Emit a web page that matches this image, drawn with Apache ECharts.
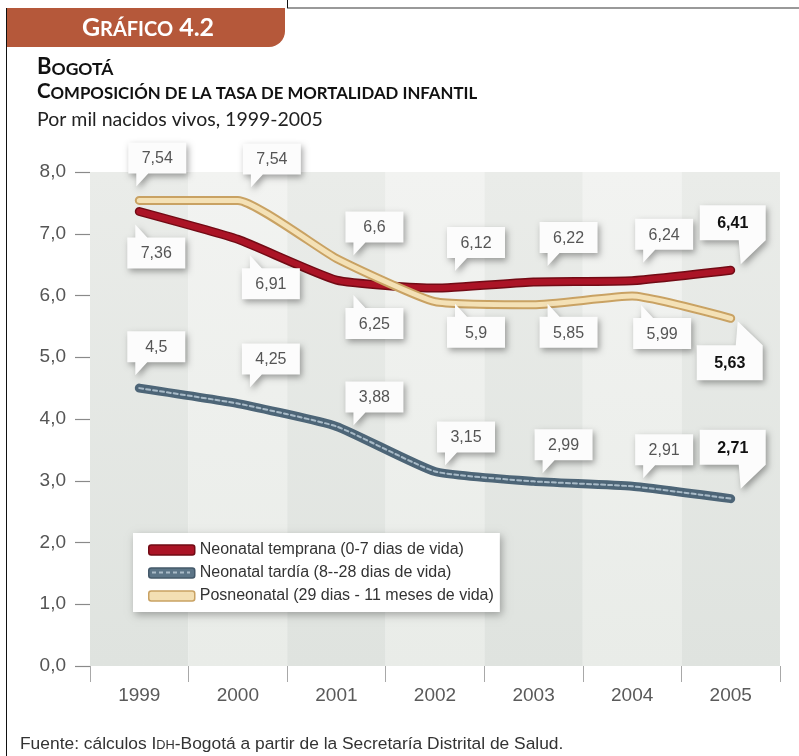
<!DOCTYPE html>
<html>
<head>
<meta charset="utf-8">
<title>Bogotá – Composición de la tasa de mortalidad infantil</title>
<script src="https://cdn.jsdelivr.net/npm/echarts@6/dist/echarts.min.js"></script>
<style>
  html, body { margin: 0; padding: 0; background: #ffffff; }
  #chart { width: 799px; height: 756px; }
</style>
</head>
<body>
<div id="chart"></div>
<script>
// ---- Data: infant mortality components, per 1000 live births ----
const years = ['1999', '2000', '2001', '2002', '2003', '2004', '2005'];
const neonatalTemprana = [7.36, 6.91, 6.25, 6.12, 6.22, 6.24, 6.41];
const neonatalTardia   = [4.5, 4.25, 3.88, 3.15, 2.99, 2.91, 2.71];
const posneonatal      = [7.54, 7.54, 6.6, 5.9, 5.85, 5.99, 5.63];
const seriesNames = [
  'Neonatal temprana (0-7 dias de vida)',
  'Neonatal tardía (8--28 dias de vida)',
  'Posneonatal (29 dias - 11 meses de vida)'
];
const yMin = 0, yMax = 8, yStep = 1;

// ---- Callout placement: [dx from point to box left, dy gap (+ below / - above), emphasised] ----
const tempranaCallouts = [[-12, 26], [4, 29], [9, 28], [12, -30], [6, -29], [3, -31], [-31, -30, true]];
const tardiaCallouts   = [[-12, -26], [4, -29], [9, -14], [2, -19], [1, -21], [3, -21], [-31, -34, true]];
const posneoCallouts   = [[-11, -27], [5, -26], [9, -16], [12, 15], [6, 12], [1, 22], [-34, 27, true]];

const FONT = "'Liberation Sans', Arial, Helvetica, sans-serif";
const HEAD = "Lato, 'Open Sans', sans-serif";

// decimal comma, keeping the number of decimals of the value
const fmt = v => {
  const dec = String(v).split('.')[1];
  return v.toFixed(dec ? dec.length : 0).replace('.', ',');
};

function calloutRenderer(layout) {
  return function (params, api) {
    const i = params.dataIndex;
    const v = api.value(1);
    const p = api.coord([api.value(0), v]);
    const L = layout[i];
    const bold = !!L[2];
    const w = bold ? 66 : 58, h = bold ? 35 : 31;
    const x0 = p[0] + L[0];
    const y0 = L[1] > 0 ? p[1] + L[1] : p[1] + L[1] - h;
    const x1 = x0 + w, y1 = y0 + h;
    let pts;
    if (!bold) {
      pts = L[1] < 0
        ? [[x0, y0], [x1, y0], [x1, y1], [x0 + 20, y1], [x0 + 8, y1 + 13], [x0 + 8, y1], [x0, y1]]
        : [[x0, y0], [x0 + 8, y0], [x0 + 8, y0 - 13], [x0 + 20, y0], [x1, y0], [x1, y1], [x0, y1]];
    } else {
      pts = L[1] < 0
        ? [[x0, y0], [x1, y0], [x1, y1], [x1 - 25, y1 + 24], [x1 - 27, y1], [x0, y1]]
        : [[x0, y0], [x1 - 27, y0], [x1 - 25, y0 - 24], [x1, y0], [x1, y1], [x0, y1]];
    }
    return {
      type: 'group',
      children: [
        {
          type: 'polygon',
          shape: { points: pts },
          style: {
            fill: '#fcfcfc',
            shadowBlur: 6, shadowOffsetX: 2, shadowOffsetY: 3,
            shadowColor: 'rgba(0,0,0,0.35)'
          }
        },
        {
          type: 'text',
          style: {
            text: fmt(v),
            x: (x0 + x1) / 2, y: (y0 + y1) / 2 + 1,
            align: 'center', verticalAlign: 'middle',
            font: (bold ? 'bold 16px ' : '16px ') + FONT,
            fill: bold ? '#111' : '#555'
          }
        }
      ]
    };
  };
}

function lineSeries(values, name, style, z) {
  return {
    type: 'line',
    name: name,
    data: values,
    smooth: 0.15,
    symbol: 'none',
    z: z,
    silent: true,
    lineStyle: Object.assign({ cap: 'round', join: 'round' }, style)
  };
}

function calloutSeries(values, layout) {
  return {
    type: 'custom',
    z: 10,
    silent: true,
    data: values.map((v, i) => [i, v]),
    encode: { x: 0, y: 1 },
    renderItem: calloutRenderer(layout)
  };
}

const bandGrad = (top, bottom) => new echarts.graphic.LinearGradient(0, 0, 0, 1, [
  { offset: 0, color: top }, { offset: 1, color: bottom }
]);

const chart = echarts.init(document.getElementById('chart'), null, { renderer: 'canvas' });

chart.setOption({
  animation: false,
  backgroundColor: '#ffffff',
  grid: { left: 90, right: 19, top: 172, bottom: 90, containLabel: false },
  xAxis: {
    type: 'category',
    data: years,
    boundaryGap: true,
    axisLine: { show: false },
    axisTick: { show: true, length: 16, lineStyle: { color: '#a8a8a8', width: 1 } },
    axisLabel: { margin: 20, fontFamily: FONT, fontSize: 19, color: '#5a5a5a' },
    splitLine: { show: false },
    splitArea: {
      show: true,
      areaStyle: { color: [bandGrad('#eaece9', '#dfe3df'), bandGrad('#f2f3f1', '#e9ece8')] }
    }
  },
  yAxis: {
    type: 'value',
    min: yMin, max: yMax, interval: yStep,
    axisLine: { show: false },
    axisTick: { show: true, length: 15, lineStyle: { color: '#8a8a8a', width: 1.2 } },
    axisLabel: { margin: 24, fontFamily: FONT, fontSize: 19, color: '#555',
      formatter: v => v.toFixed(1).replace('.', ',') },
    splitLine: { show: true, lineStyle: { color: '#ffffff', width: 1.5 } }
  },
  legend: {
    data: [
      { name: seriesNames[0], itemStyle: { color: '#ab1426', borderColor: '#720b15', borderWidth: 1.5 } },
      { name: seriesNames[1], itemStyle: { color: '#5c7587', borderColor: '#44596a', borderWidth: 1.5 } },
      { name: seriesNames[2], itemStyle: { color: '#f3dfb3', borderColor: '#c9a263', borderWidth: 1.5 } }
    ],
    orient: 'vertical',
    left: 133, top: 533,
    padding: [9, 6, 8, 15],
    icon: 'roundRect',
    itemWidth: 46, itemHeight: 10, itemGap: 7,
    itemTextGap: 9,
    textStyle: { fontFamily: FONT, fontSize: 16, color: '#333', lineHeight: 16 },
    backgroundColor: '#ffffff',
    shadowBlur: 8, shadowOffsetX: 2, shadowOffsetY: 3, shadowColor: 'rgba(0,0,0,0.3)',
    selectedMode: false
  },
  series: [
    lineSeries(neonatalTemprana, 'tempranaBase', { color: '#720b15', width: 9 }, 2),
    lineSeries(neonatalTemprana, seriesNames[0], { color: '#ab1426', width: 6 }, 3),
    lineSeries(neonatalTardia, 'tardiaBase', { color: '#4d6577', width: 9 }, 2),
    lineSeries(neonatalTardia, seriesNames[1], { color: '#a9bbc8', width: 2, type: [4, 3] }, 3),
    lineSeries(posneonatal, 'posneoBase', { color: '#c9a263', width: 9 }, 4),
    lineSeries(posneonatal, seriesNames[2], { color: '#f4e1b6', width: 5 }, 5),
    calloutSeries(neonatalTemprana, tempranaCallouts),
    calloutSeries(neonatalTardia, tardiaCallouts),
    calloutSeries(posneonatal, posneoCallouts)
  ],
  graphic: [
    // frame
    { type: 'line', shape: { x1: 287, y1: 8, x2: 799, y2: 8 }, style: { stroke: '#777', lineWidth: 1.5 } },
    { type: 'line', shape: { x1: 287.5, y1: 0, x2: 287.5, y2: 8 }, style: { stroke: '#111', lineWidth: 1 } },
    { type: 'line', shape: { x1: 6.5, y1: 8, x2: 6.5, y2: 756 }, style: { stroke: '#111', lineWidth: 1 } },
    // dashed core of the "tardía" legend key
    { type: 'line', z: 100, shape: { x1: 152, y1: 572.5, x2: 190, y2: 572.5 },
      style: { stroke: '#a9bbc8', lineWidth: 2, lineDash: [4, 3] } },
    // header tab
    { type: 'rect', shape: { x: 7, y: 8, width: 278, height: 39, r: [0, 0, 16, 0] }, style: { fill: '#b5583a' } },
    {
      type: 'text', x: 148, y: 40,
      style: {
        text: '{a|G}{b|RÁFICO}{a| 4.2}',
        align: 'center', verticalAlign: 'bottom',
        rich: {
          a: { fontFamily: HEAD, fontSize: 25, fontWeight: 'bold', fill: '#ffffff', verticalAlign: 'bottom' },
          b: { fontFamily: HEAD, fontSize: 20, fontWeight: 'bold', fill: '#ffffff', verticalAlign: 'bottom' }
        }
      }
    },
    // titles
    {
      type: 'text', x: 37, y: 78,
      style: {
        text: '{a|B}{b|OGOTÁ}',
        align: 'left', verticalAlign: 'bottom',
        rich: {
          a: { fontFamily: HEAD, fontSize: 22, fontWeight: 'bold', fill: '#111', verticalAlign: 'bottom' },
          b: { fontFamily: HEAD, fontSize: 17.5, fontWeight: 'bold', fill: '#111', verticalAlign: 'bottom' }
        }
      }
    },
    {
      type: 'text', x: 37, y: 102,
      style: {
        text: '{a|C}{b|OMPOSICIÓN DE LA TASA DE MORTALIDAD INFANTIL}',
        align: 'left', verticalAlign: 'bottom',
        rich: {
          a: { fontFamily: HEAD, fontSize: 20.5, fontWeight: 'bold', fill: '#111', verticalAlign: 'bottom' },
          b: { fontFamily: HEAD, fontSize: 16.8, fontWeight: 'bold', fill: '#111', verticalAlign: 'bottom' }
        }
      }
    },
    {
      type: 'text', x: 37, y: 120,
      style: {
        text: 'Por mil nacidos vivos, 1999-2005',
        align: 'left', verticalAlign: 'middle',
        font: '19.5px ' + HEAD, fill: '#222'
      }
    },
    // source note
    {
      type: 'text', x: 20, y: 743,
      style: {
        text: '{n|Fuente: cálculos I}{s|DH}{n|-Bogotá a partir de la Secretaría Distrital de Salud.}',
        align: 'left', verticalAlign: 'middle',
        rich: {
          n: { fontFamily: FONT, fontSize: 17.4, fill: '#333', verticalAlign: 'bottom', lineHeight: 20 },
          s: { fontFamily: FONT, fontSize: 12.8, fill: '#333', verticalAlign: 'bottom', lineHeight: 20,
               padding: [0, 0, 1, 0] }
        }
      }
    }
  ]
});
</script>
</body>
</html>
